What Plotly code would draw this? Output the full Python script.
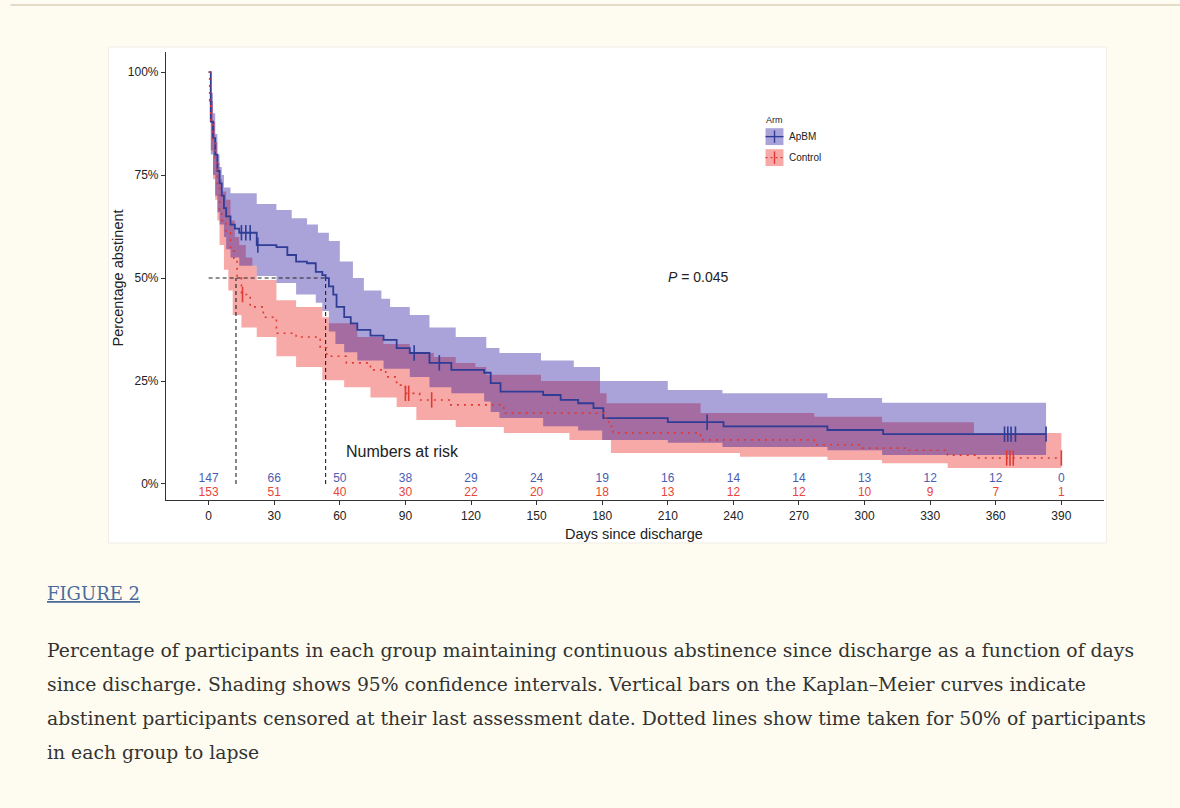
import plotly.graph_objects as go

# ---------------- data ----------------
days_ticks = [0, 30, 60, 90, 120, 150, 180, 210, 240, 270, 300, 330, 360, 390]
risk_apbm = [147, 66, 50, 38, 29, 24, 19, 16, 14, 14, 13, 12, 12, 0]
risk_control = [153, 51, 40, 30, 22, 20, 18, 13, 12, 12, 10, 9, 7, 1]

apbm_t = [0, 1, 2, 3, 4, 5, 6, 7, 8, 10, 12, 14, 22, 31, 36, 40, 45, 49, 52, 53.5, 55, 57,
          58.5, 62, 65, 68, 74, 80, 86, 92, 101, 111, 126, 129, 133.5, 153, 161, 169, 176,
          180.5, 210, 235.5, 283, 308.5, 383]
apbm_s = [100, 88, 84, 80, 76, 73, 70, 67, 65, 63, 62, 61, 58, 57.5, 55.6, 54, 53.6, 51.5,
          50.7, 50, 48, 46, 43, 40.5, 39, 37.4, 36, 35, 33, 31.8, 29.4, 27.7, 27, 24.5, 22.4,
          21.6, 20.4, 19.6, 18.4, 16, 15, 14, 13.1, 12.1, 12.1]
apbm_up_t = [0, 1, 2, 3, 4, 5, 6, 7, 10, 22, 31, 38, 45, 50, 55, 60, 66, 71, 79, 83, 92, 101,
             113, 127, 133, 152, 167, 179, 210, 235, 283, 308, 383]
apbm_up = [100, 95, 90, 85, 80, 77, 75, 72, 70.6, 68, 66.5, 64.5, 63, 61, 59, 54, 50, 47, 45,
           43, 41, 38, 35.7, 33, 31.8, 30, 28.4, 25, 22.8, 22, 20.9, 19.7, 19.7]
apbm_lo_t = [0, 1, 2, 3, 4, 5, 7, 8, 10, 14, 22, 31, 40, 49, 52, 55, 58, 62, 68, 80, 92, 101,
             111, 126, 129, 133, 153, 169, 180, 210, 235, 283, 308, 383]
apbm_lo = [100, 80, 75, 70, 66, 63, 60, 57, 55, 53, 50.5, 48.8, 46, 44, 42, 37, 34, 32, 30,
           28, 26, 23.5, 22, 20, 17.5, 16, 14, 13, 10.7, 10, 9, 8.2, 7, 7]
apbm_cens = [15, 17, 19, 22.5, 94, 105.5, 228, 364, 365.5, 367, 369, 383]

ctrl_t = [0, 0.5, 1, 2, 3, 4, 5, 6, 8, 10, 11.5, 13, 15, 19, 25, 31, 40, 51, 54, 63, 74, 81,
          86, 90, 96.5, 110, 135, 181, 183, 185, 225, 277, 298, 320, 338, 352, 390]
ctrl_s = [100, 93, 88, 83, 78, 72, 66.5, 64, 61, 57, 54, 50, 46, 43, 40.5, 36.6, 35.7, 33, 31,
          29.4, 27.7, 26, 24, 22, 20.4, 19.2, 17.2, 16, 14, 12.4, 10.7, 9.5, 8.7, 8.2, 7, 6.3,
          6.3]
ctrl_up_t = [0, 0.5, 1, 2, 3, 4, 5, 6, 8, 10, 12, 14, 17, 20, 22, 31, 40, 52, 55, 68, 80, 92,
             103, 113, 122, 127, 152, 179, 182, 225, 277, 308, 350, 390]
ctrl_up = [100, 97, 93, 88, 83, 78, 74, 71, 69, 64, 60, 58, 55, 53, 49.5, 44.6, 43, 40.5, 39,
           35.7, 34, 31.8, 30.8, 29.4, 28.4, 26.5, 25, 22, 19.6, 17.2, 16.3, 15, 12.4, 12.4]
ctrl_lo_t = [0, 0.5, 1, 2, 3, 4, 5, 7, 9, 11, 15, 22, 31, 40, 52, 62, 74, 86, 95, 113, 135,
             165, 184, 243, 283, 308, 338, 390]
ctrl_lo = [100, 88, 81, 74, 69, 64, 58, 52, 47, 41, 38, 35.7, 31, 28.4, 25.2, 23.5, 21, 18.7,
           15.5, 13.8, 12.4, 10.7, 7.5, 6.6, 5.8, 5, 3.9, 3.4]
ctrl_cens = [15.5, 90, 91.5, 102, 365, 366.5, 368, 390]

median_apbm = 53.5
median_ctrl = 12.5

# ---------------- geometry helpers ----------------
FIG_W, FIG_H = 1180, 808
PL, PR, PT, PB = 165.5, 1103.6, 52, 500   # plot area in pixels


def px(x):
    return (x - PL) / (PR - PL)


def py(y):
    return (PB - y) / (PB - PT)


def step_xy(t, v):
    xs, ys = [t[0]], [v[0]]
    for i in range(1, len(t)):
        xs += [t[i], t[i]]
        ys += [v[i - 1], v[i]]
    return xs, ys


def value_at(t, v, x):
    val = v[0]
    for ti, vi in zip(t, v):
        if ti <= x:
            val = vi
    return val


BLUE = "#2f3d96"
RED = "#e03a33"
BLUE_FILL = "rgba(20,0,150,0.36)"
RED_FILL = "rgba(232,40,35,0.40)"
BLUE_TXT = "#4a5db4"
RED_TXT = "#e8453b"
FONT = "Liberation Sans, Arial, sans-serif"
BG = "#fefcf1"

fig = go.Figure()

# confidence bands (control first, ApBM on top)
for (ut, uv, lt, lv, col) in [(ctrl_up_t, ctrl_up, ctrl_lo_t, ctrl_lo, RED_FILL),
                              (apbm_up_t, apbm_up, apbm_lo_t, apbm_lo, BLUE_FILL)]:
    ux, uy = step_xy(ut, uv)
    lx, ly = step_xy(lt, lv)
    fig.add_trace(go.Scatter(x=ux + lx[::-1], y=uy + ly[::-1], fill="toself",
                             fillcolor=col, line=dict(width=0), mode="lines",
                             hoverinfo="skip", showlegend=False))

# median dashed lines
DASH = dict(color="#222", width=1.1, dash="4px,3px")
fig.add_trace(go.Scatter(x=[0, median_apbm], y=[50, 50], mode="lines", line=DASH,
                         showlegend=False))
for m in (median_ctrl, median_apbm):
    fig.add_trace(go.Scatter(x=[m, m], y=[0, 50], mode="lines", line=DASH, showlegend=False))

# KM curves
bx, by = step_xy(apbm_t, apbm_s)
fig.add_trace(go.Scatter(x=bx, y=by, mode="lines", line=dict(color=BLUE, width=1.8),
                         name="ApBM", showlegend=False))
cx, cy = step_xy(ctrl_t, ctrl_s)
fig.add_trace(go.Scatter(x=cx, y=cy, mode="lines",
                         line=dict(color=RED, width=1.6, dash="2px,5px"),
                         name="Control", showlegend=False))

# censor marks
fig.add_trace(go.Scatter(x=apbm_cens, y=[value_at(apbm_t, apbm_s, c) for c in apbm_cens],
                         mode="markers",
                         marker=dict(symbol="line-ns-open", size=11, color=BLUE,
                                     line=dict(color=BLUE, width=1.6)),
                         showlegend=False))
fig.add_trace(go.Scatter(x=ctrl_cens, y=[value_at(ctrl_t, ctrl_s, c) for c in ctrl_cens],
                         mode="markers",
                         marker=dict(symbol="line-ns-open", size=11, color=RED,
                                     line=dict(color=RED, width=1.6)),
                         showlegend=False))

# numbers at risk
fig.add_trace(go.Scatter(x=days_ticks, y=[1.3] * len(days_ticks), mode="text",
                         text=[str(v) for v in risk_apbm],
                         textfont=dict(family=FONT, size=12, color=BLUE_TXT), showlegend=False))
fig.add_trace(go.Scatter(x=days_ticks, y=[-2.3] * len(days_ticks), mode="text",
                         text=[str(v) for v in risk_control],
                         textfont=dict(family=FONT, size=12, color=RED_TXT), showlegend=False))

shapes = []
annotations = []

# page decorations
shapes.append(dict(type="rect", xref="paper", yref="paper", x0=px(108), x1=px(1106),
                   y0=py(543), y1=py(47), fillcolor="white", line=dict(color="#f0ede2", width=1),
                   layer="below"))
shapes.append(dict(type="line", xref="paper", yref="paper", x0=px(10), x1=px(1180),
                   y0=py(5), y1=py(5), line=dict(color="#ddd0bb", width=1.5)))

# legend (manual)
lx0, lx1 = 254.7, 262.9
for (y0, y1, fill, lcol, dash) in [(82.3, 86.4, BLUE_FILL, BLUE, "solid"),
                                   (77.2, 81.3, RED_FILL, RED, "2px,3px")]:
    shapes.append(dict(type="rect", xref="x", yref="y", x0=lx0, x1=lx1, y0=y0, y1=y1,
                       fillcolor=fill, line=dict(width=0)))
    ym = (y0 + y1) / 2
    shapes.append(dict(type="line", xref="x", yref="y", x0=lx0, x1=lx1, y0=ym, y1=ym,
                       line=dict(color=lcol, width=1.4, dash=dash)))
    xm = (lx0 + lx1) / 2
    shapes.append(dict(type="line", xref="x", yref="y", x0=xm, x1=xm, y0=ym - 1.5, y1=ym + 1.5,
                       line=dict(color=lcol, width=1.4)))


def ann(x, y, text, size, xref="x", yref="y", xanchor="center", color="#222",
        family=FONT, angle=0):
    annotations.append(dict(x=x, y=y, xref=xref, yref=yref, text=text, showarrow=False,
                            xanchor=xanchor, yanchor="middle", textangle=angle,
                            font=dict(family=family, size=size, color=color)))


ann(253.8, 88.3, "Arm", 9, xanchor="left")
ann(264.7, 84.3, "ApBM", 10, xanchor="left")
ann(264.7, 79.2, "Control", 10, xanchor="left")

# p value and at-risk label
ann(224, 50.3, "<i>P</i> = 0.045", 14)
ann(61.7, 7.8, "Numbers at risk", 16, xanchor="left")

# axis titles
ann(px(117), py(278), "Percentage abstinent", 14.5, xref="paper", yref="paper", angle=-90)
ann(px(634), py(534), "Days since discharge", 14.5, xref="paper", yref="paper")

# caption
SERIF = "DejaVu Serif, Liberation Serif, serif"
ann(px(44), py(593), "<u>FIGURE 2</u>", 18, xref="paper", yref="paper", xanchor="left",
    color="#4d6c9c", family=SERIF)
caption_lines = [
    "Percentage of participants in each group maintaining continuous abstinence since discharge as a function of days",
    "since discharge. Shading shows 95% confidence intervals. Vertical bars on the Kaplan–Meier curves indicate",
    "abstinent participants censored at their last assessment date. Dotted lines show time taken for 50% of participants",
    "in each group to lapse",
]
for i, line in enumerate(caption_lines):
    ann(px(44), py(650 + 34 * i), line, 18.8, xref="paper", yref="paper", xanchor="left",
        color="#333333", family=SERIF)

fig.update_layout(
    width=FIG_W, height=FIG_H,
    margin=dict(l=PL, r=FIG_W - PR, t=PT, b=FIG_H - PB),
    paper_bgcolor=BG, plot_bgcolor="rgba(0,0,0,0)",
    shapes=shapes, annotations=annotations, showlegend=False,
    xaxis=dict(range=[-19.5, 409.5], tickvals=days_ticks, ticktext=[str(d) for d in days_ticks],
               showgrid=False, zeroline=False, showline=True, linecolor="#333", linewidth=1.2,
               ticks="outside", ticklen=4, tickcolor="#333",
               tickfont=dict(family=FONT, size=12, color="#222")),
    yaxis=dict(range=[-3.9, 104.9], tickvals=[0, 25, 50, 75, 100],
               ticktext=["0%", "25%", "50%", "75%", "100%"],
               showgrid=False, zeroline=False, showline=True, linecolor="#333", linewidth=1.2,
               ticks="outside", ticklen=4, tickcolor="#333",
               tickfont=dict(family=FONT, size=12, color="#222")),
)

fig.write_html("out.html", config={"displayModeBar": False},
               post_script="document.body.style.margin='0';"
                           "document.body.style.background='" + BG + "';")
